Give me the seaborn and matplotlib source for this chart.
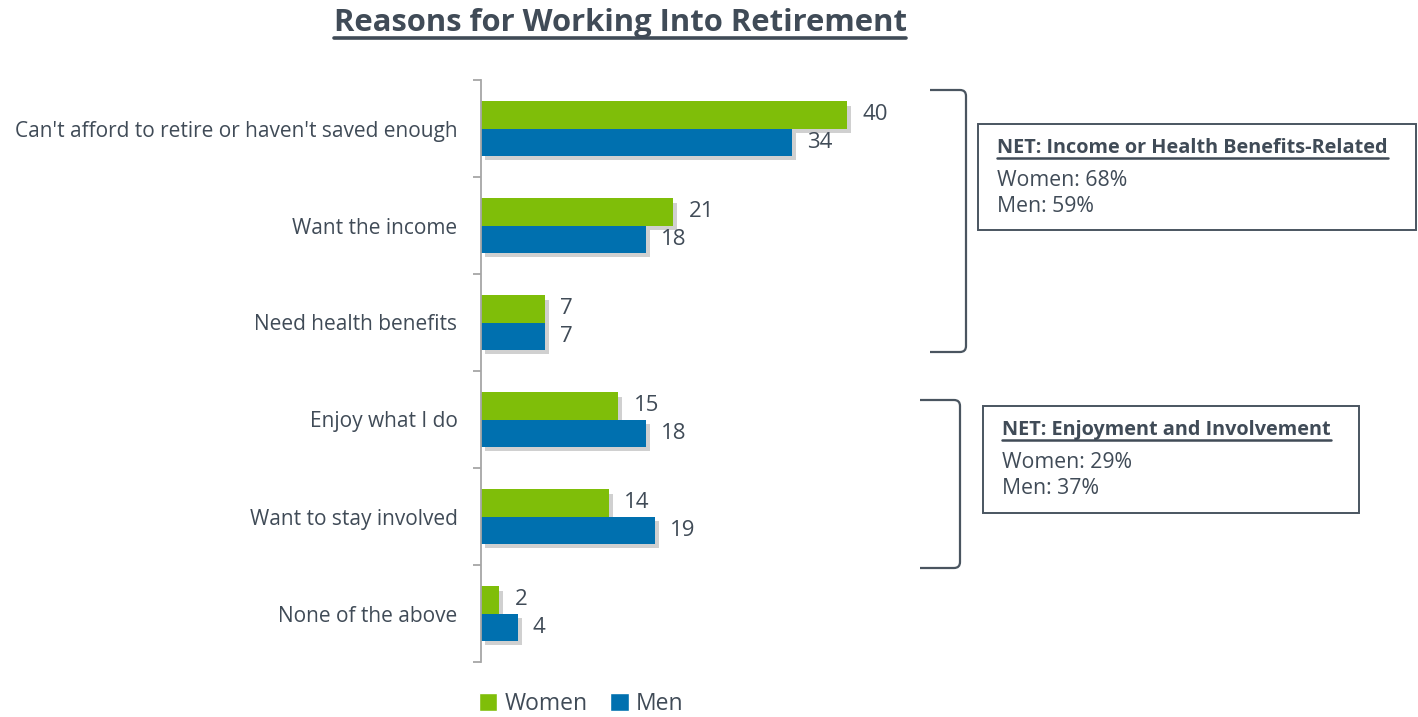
import pandas as pd
import matplotlib.pyplot as plt
import matplotlib.patheffects as pe
from matplotlib.lines import Line2D
from matplotlib.patches import Rectangle, Patch, PathPatch
from matplotlib.path import Path
import seaborn as sns

# data
reasons = ["Can't afford to retire or haven't saved enough", "Want the income",
           "Need health benefits", "Enjoy what I do", "Want to stay involved",
           "None of the above"]
women = [40, 21, 7, 15, 14, 2]
men = [34, 18, 7, 18, 19, 4]
groups = ["Women", "Men"]
net_titles = ["NET: Income or Health Benefits-Related", "NET: Enjoyment and Involvement"]
net_women = [68, 29]
net_men = [59, 37]

df = pd.DataFrame({
    "Reason": reasons * 2,
    "Gender": ["Women"] * len(reasons) + ["Men"] * len(reasons),
    "Pct": women + men,
})

GREEN = "#7FBE09"
BLUE = "#0070AF"
TXT = "#404B57"
W, H = 1418, 717

sns.set_theme(style="white")
plt.rcParams["font.family"] = ["Open Sans", "DejaVu Sans"]

fig = plt.figure(figsize=(W / 100, H / 100), dpi=100)
# axes placed in pixel terms: spine at x=481, rows from y=80 to y=662
ax = fig.add_axes([481 / W, 1 - 662 / H, 457.5 / W, 582 / H])

sns.barplot(data=df, y="Reason", x="Pct", hue="Gender", order=reasons,
            hue_order=groups, palette=[GREEN, BLUE], orient="h",
            width=0.56, dodge=True, saturation=1, legend=False, ax=ax)

shadow = [pe.SimplePatchShadow(offset=(3, -3), shadow_rgbFace="#666666", alpha=0.3), pe.Normal()]
for cont in ax.containers:
    for bar in cont:
        bar.set_path_effects(shadow)
        bar.set_edgecolor("none")
    ax.bar_label(cont, fmt="%d", padding=11, fontsize=16, color=TXT)

ax.set_xlim(0, 50)
ax.set_ylim(5.5, -0.5)
ax.set_xlabel("")
ax.set_ylabel("")
ax.set_xticks([])
for s in ["top", "right", "bottom"]:
    ax.spines[s].set_visible(False)
ax.spines["left"].set_color("#A6A6A6")
ax.spines["left"].set_linewidth(1.3)
ax.set_yticks(range(len(reasons)))
ax.set_yticklabels(reasons, fontsize=15, color=TXT)
ax.tick_params(axis="y", which="major", length=0, pad=17)
ax.set_yticks([i - 0.5 for i in range(len(reasons) + 1)], minor=True)
ax.tick_params(axis="y", which="minor", left=True, length=6, width=1.3, color="#A6A6A6")

def fx(x):
    return x / W

def fy(y):
    return 1 - y / H

# title with underline
title = fig.text(fx(620), fy(23), "Reasons for Working Into Retirement", ha="center",
                 va="center", fontsize=22.3, fontweight="bold", color=TXT)
fig.canvas.draw()
r = fig.canvas.get_renderer()

def underline(t, gap=2, lw=2):
    bb = t.get_window_extent(r)
    fig.add_artist(Line2D([bb.x0 / W, bb.x1 / W], [(bb.y0 - gap) / H] * 2,
                          color=t.get_color(), lw=lw))

underline(title, gap=0, lw=2.6)

# brackets
def bracket(x0, x1, y0, y1, rad=6):
    verts = [(x0, y0), (x1 - rad, y0), (x1, y0), (x1, y0 + rad),
             (x1, y1 - rad), (x1, y1), (x1 - rad, y1), (x0, y1)]
    codes = [Path.MOVETO, Path.LINETO, Path.CURVE3, Path.CURVE3,
             Path.LINETO, Path.CURVE3, Path.CURVE3, Path.LINETO]
    p = Path([(fx(a), fy(b)) for a, b in verts], codes)
    fig.add_artist(PathPatch(p, fill=False, edgecolor="#4A5560", lw=1.6,
                             transform=fig.transFigure))

bracket(930, 966, 90, 352)
bracket(920, 960, 400, 568)

# NET boxes
boxes = [(978, 124, 1416, 230), (983, 406, 1359, 513)]
for (bx0, by0, bx1, by1), head, wv, mv in zip(boxes, net_titles, net_women, net_men):
    fig.add_artist(Rectangle((fx(bx0), fy(by1)), (bx1 - bx0) / W, (by1 - by0) / H,
                             fill=False, edgecolor="#4A5560", lw=1.4,
                             transform=fig.transFigure))
    h = fig.text(fx(bx0 + 19), fy(by0 + 24), head, ha="left", va="center",
                 fontsize=14.3, fontweight="bold", color=TXT)
    underline(h, gap=0, lw=1.8)
    fig.text(fx(bx0 + 19), fy(by0 + 56), f"Women: {wv}%", ha="left", va="center",
             fontsize=15.3, color=TXT)
    fig.text(fx(bx0 + 19), fy(by0 + 83), f"Men: {mv}%", ha="left", va="center",
             fontsize=15.3, color=TXT)

handles = [Patch(facecolor=GREEN, label="Women"), Patch(facecolor=BLUE, label="Men")]
fig.legend(handles=handles, loc="center", bbox_to_anchor=(fx(581), fy(704)), ncol=2,
           frameon=False, fontsize=16.5, handlelength=0.8, handleheight=0.8,
           handletextpad=0.3, columnspacing=1.0, labelcolor=TXT)

fig.savefig("out.png", dpi=100)
